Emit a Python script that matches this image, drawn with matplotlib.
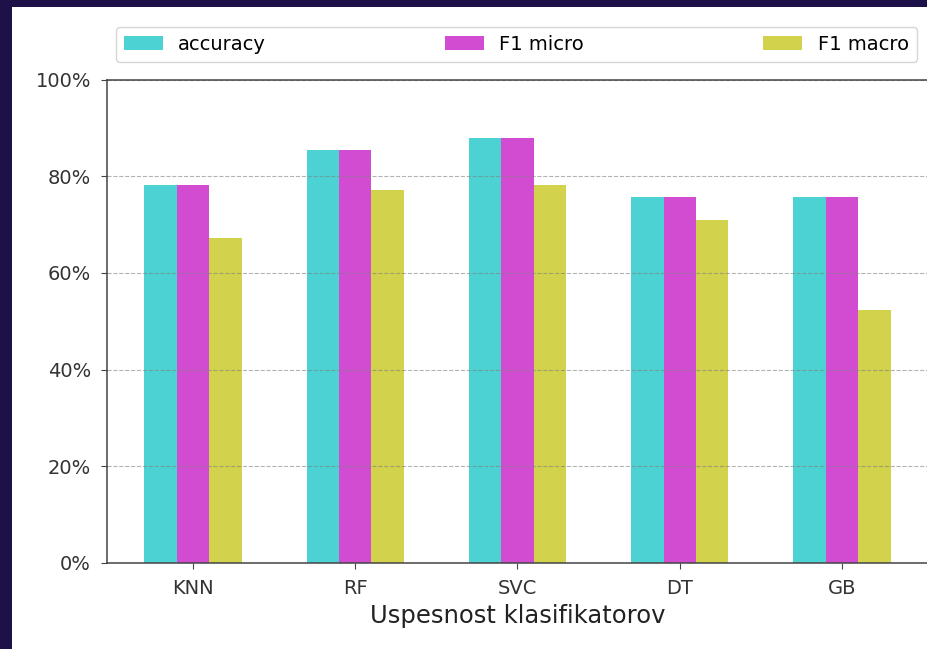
import numpy as np
import matplotlib
matplotlib.use('Agg')
import matplotlib.pyplot as plt
from matplotlib.patches import Rectangle
from matplotlib.ticker import PercentFormatter

classifiers = ['KNN', 'RF', 'SVC', 'DT', 'GB']
accuracy = [0.781, 0.854, 0.878, 0.756, 0.756]
f1_micro = [0.781, 0.854, 0.878, 0.756, 0.756]
f1_macro = [0.672, 0.772, 0.781, 0.710, 0.523]
labels = ['accuracy', 'F1 micro', 'F1 macro']

fig = plt.figure(figsize=(9.27, 6.49), dpi=100)
fig.patch.set_facecolor('#1e1048')
# white page area, the screenshot has a dark frame on the left and top
fig.add_artist(Rectangle((12 / 927, 0), 1, 1 - 7 / 649, transform=fig.transFigure,
                         facecolor='white', edgecolor='none', zorder=0))

ax = fig.add_axes([107 / 927, 1 - 563 / 649, 821 / 927, 483.5 / 649])

x = np.arange(len(classifiers))
w = 0.2
ax.bar(x - w, accuracy, w, color='c', alpha=0.7, label=labels[0])
ax.bar(x, f1_micro, w, color='m', alpha=0.7, label=labels[1])
ax.bar(x + w, f1_macro, w, color='y', alpha=0.7, label=labels[2])

ax.set_ylim(0, 1)
ax.set_yticks(np.arange(0, 1.01, 0.2))
ax.yaxis.set_major_formatter(PercentFormatter(1.0, decimals=0))
ax.set_xticks(x)
ax.set_xticklabels(classifiers)
ax.tick_params(labelsize=14, labelcolor='#333333', length=4.5, pad=7, color='#444444')
for s in ax.spines.values():
    s.set_color('#444444')
    s.set_linewidth(1.1)
ax.yaxis.grid(True, linestyle='--', color='gray', alpha=0.6)
ax.set_xlabel('Uspesnost klasifikatorov', fontsize=17.5, color='#222222')

ax.legend(bbox_to_anchor=(0.011, 1.037, 0.975, 0.07), loc='lower left', mode='expand',
          ncol=3, borderaxespad=0, fontsize=14)

fig.savefig('out.png', dpi=100, facecolor=fig.get_facecolor())
